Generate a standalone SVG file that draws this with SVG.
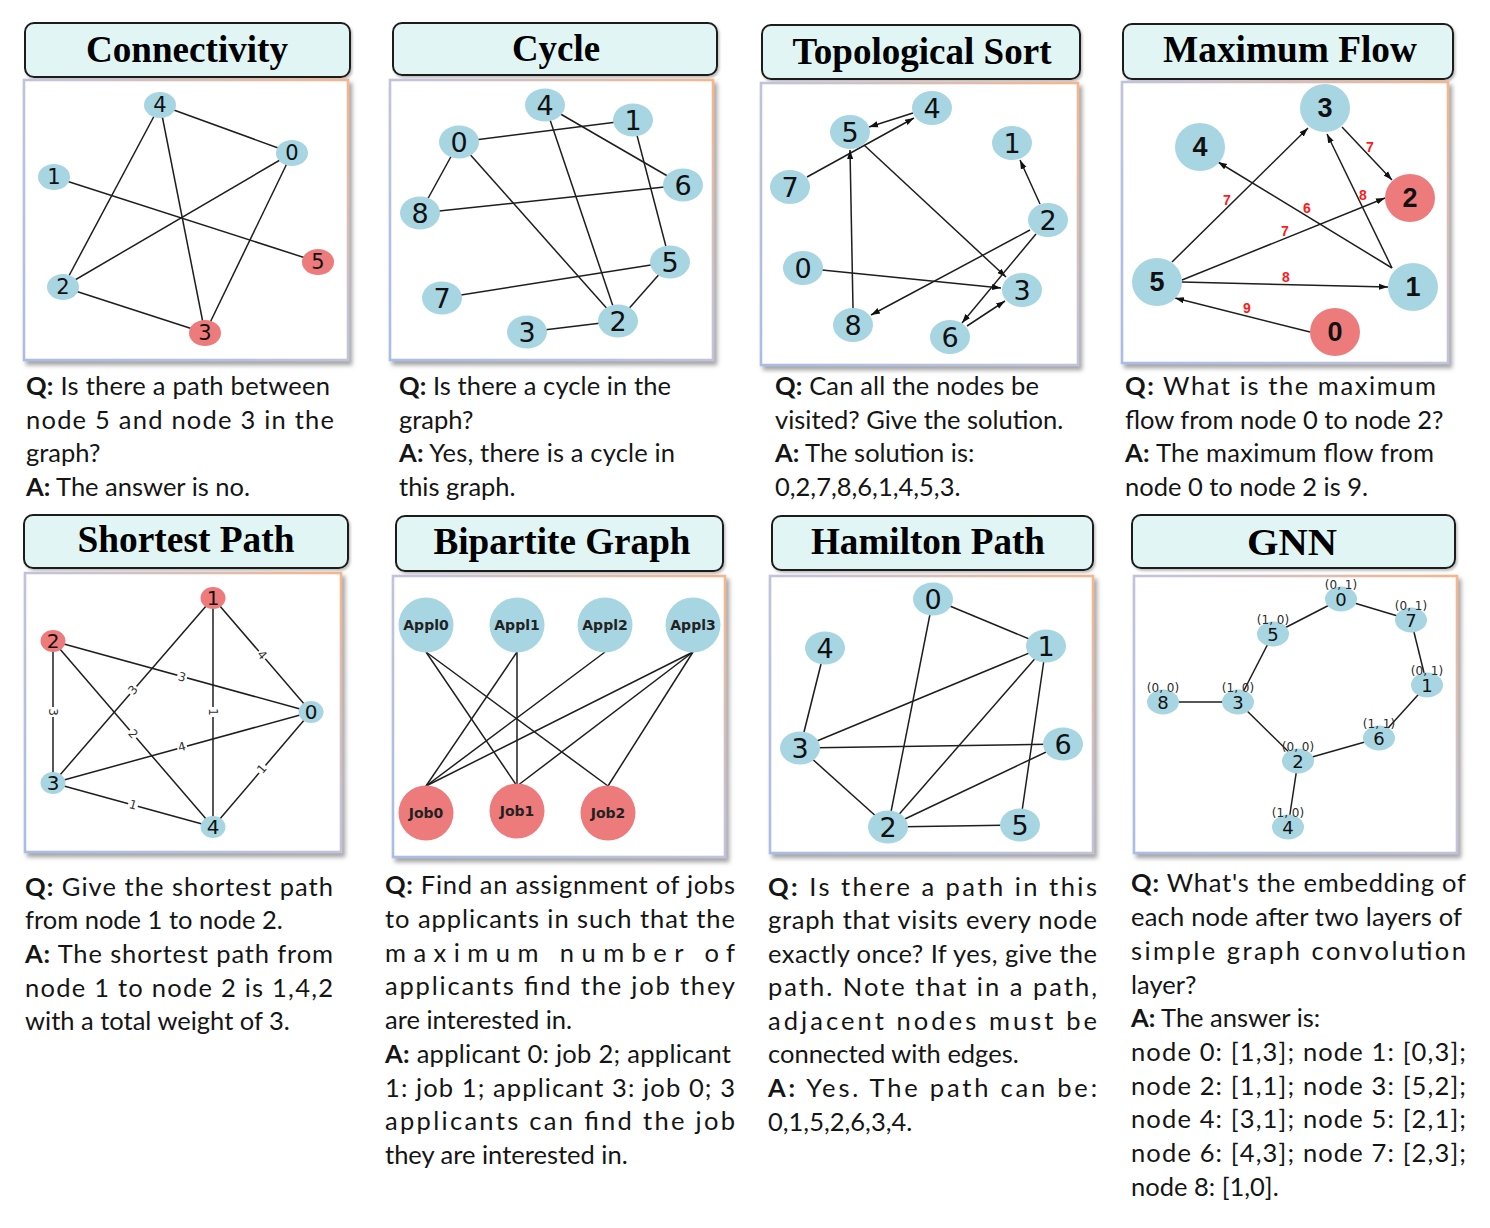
<svg xmlns="http://www.w3.org/2000/svg" width="1490" height="1228" viewBox="0 0 1490 1228">
<defs>
<linearGradient id="bord" x1="0" y1="1" x2="1" y2="0">
<stop offset="0" stop-color="#a9bde6"/>
<stop offset="0.55" stop-color="#c4c3da"/>
<stop offset="1" stop-color="#f4b68c"/>
</linearGradient>
<filter id="sh" x="-5%" y="-5%" width="115%" height="115%">
<feDropShadow dx="3" dy="4" stdDeviation="2" flood-color="#7f7f7f" flood-opacity="0.7"/>
</filter>
<filter id="sh2" x="-5%" y="-10%" width="115%" height="130%">
<feDropShadow dx="1.5" dy="2" stdDeviation="1.2" flood-color="#7f7f7f" flood-opacity="0.5"/>
</filter>
<marker id="arr" viewBox="0 0 10 10" refX="10" refY="5" markerWidth="9" markerHeight="9" markerUnits="userSpaceOnUse" orient="auto">
<path d="M0,1.6 L10,5 L0,8.4 z" fill="#111"/>
</marker>
</defs>
<style>
.tb{fill:#e1f6f4;stroke:#1b1b1b;stroke-width:2;filter:url(#sh2)}
.gb{fill:#fff;stroke:url(#bord);stroke-width:2.6;filter:url(#sh)}
.tt{font-family:"Liberation Serif","Times New Roman",serif;font-weight:bold;font-size:37px;fill:#000;text-anchor:middle}
.q{font-family:Lato,"Liberation Sans",sans-serif;font-size:25.5px;fill:#151515}
.q tspan.b{font-weight:bold}
.e line{stroke:#1e1e1e;stroke-width:1.5;fill:none}
.ea line{stroke:#1e1e1e;stroke-width:1.5;marker-end:url(#arr)}
.bl{fill:#a8d5e2}
.rd{fill:#ee7b7b}
.n{font-family:"DejaVu Sans",sans-serif;fill:#111;text-anchor:middle;dominant-baseline:central}
.mf{font-family:"Liberation Sans",Arial,sans-serif;font-weight:bold;fill:#111;text-anchor:middle;dominant-baseline:central;font-size:27px}
.w{font-family:"Liberation Sans",Arial,sans-serif;font-weight:bold;fill:#ff1a1a;font-size:14px;text-anchor:middle;dominant-baseline:central}
.sw{font-family:"DejaVu Sans",sans-serif;font-size:12px;fill:#333;text-anchor:middle;dominant-baseline:central}
.bp{font-family:"DejaVu Sans",sans-serif;font-weight:bold;font-size:14px;fill:#222;text-anchor:middle;dominant-baseline:central}
.tu{font-family:"DejaVu Sans",sans-serif;font-size:12px;fill:#2a2a2a;text-anchor:middle;dominant-baseline:central}
</style>

<!-- Panel 1: Connectivity -->
<g id="connectivity">
<rect class="tb" x="25" y="23" width="325" height="54" rx="9"/>
<text class="tt" x="187" y="62" textLength="202" lengthAdjust="spacingAndGlyphs">Connectivity</text>
<rect class="gb" x="24" y="80" width="324" height="280"/>
<g id="p1-edges" class="e">
<line x1="160" y1="105" x2="292" y2="153"/>
<line x1="160" y1="105" x2="63" y2="287"/>
<line x1="160" y1="105" x2="205" y2="333"/>
<line x1="54" y1="177" x2="318" y2="262"/>
<line x1="292" y1="153" x2="63" y2="287"/>
<line x1="292" y1="153" x2="205" y2="333"/>
<line x1="63" y1="287" x2="205" y2="333"/>
</g>
<g id="p1-n4"><ellipse class="bl" cx="160" cy="105" rx="16" ry="13"/><text class="n" x="160" y="105" font-size="21">4</text></g>
<g id="p1-n0"><ellipse class="bl" cx="292" cy="153" rx="16" ry="13"/><text class="n" x="292" y="153" font-size="21">0</text></g>
<g id="p1-n1"><ellipse class="bl" cx="54" cy="177" rx="16" ry="13"/><text class="n" x="54" y="177" font-size="21">1</text></g>
<g id="p1-n5"><ellipse class="rd" cx="318" cy="262" rx="16" ry="13"/><text class="n" x="318" y="262" font-size="21">5</text></g>
<g id="p1-n2"><ellipse class="bl" cx="63" cy="287" rx="16" ry="13"/><text class="n" x="63" y="287" font-size="21">2</text></g>
<g id="p1-n3"><ellipse class="rd" cx="205" cy="333" rx="16" ry="13"/><text class="n" x="205" y="333" font-size="21">3</text></g>
<g id="p1-text">
<text class="q" x="26" y="395" textLength="304" lengthAdjust="spacing"><tspan class="b">Q:</tspan> Is there a path between</text>
<text class="q" x="26" y="429" textLength="308" lengthAdjust="spacing">node 5 and node 3 in the</text>
<text class="q" x="26" y="462">graph?</text>
<text class="q" x="26" y="496"><tspan class="b">A:</tspan> The answer is no.</text>
</g>
</g>

<!-- Panel 2: Cycle -->
<g id="cycle">
<rect class="tb" x="393" y="23" width="324" height="52" rx="9"/>
<text class="tt" x="556" y="61" textLength="88" lengthAdjust="spacingAndGlyphs">Cycle</text>
<rect class="gb" x="390" y="80" width="323" height="280"/>
<g id="p2-edges" class="e">
<line x1="459" y1="142" x2="633" y2="120"/>
<line x1="459" y1="142" x2="420" y2="213"/>
<line x1="459" y1="142" x2="618" y2="321"/>
<line x1="545" y1="105" x2="683" y2="185"/>
<line x1="545" y1="105" x2="618" y2="321"/>
<line x1="633" y1="120" x2="670" y2="262"/>
<line x1="420" y1="213" x2="683" y2="185"/>
<line x1="442" y1="298" x2="670" y2="262"/>
<line x1="670" y1="262" x2="618" y2="321"/>
<line x1="527" y1="332" x2="618" y2="321"/>
</g>
<g id="p2-n4"><ellipse class="bl" cx="545" cy="105" rx="20" ry="16.5"/><text class="n" x="545" y="105" font-size="27">4</text></g>
<g id="p2-n1"><ellipse class="bl" cx="633" cy="120" rx="20" ry="16.5"/><text class="n" x="633" y="120" font-size="27">1</text></g>
<g id="p2-n0"><ellipse class="bl" cx="459" cy="142" rx="20" ry="16.5"/><text class="n" x="459" y="142" font-size="27">0</text></g>
<g id="p2-n6"><ellipse class="bl" cx="683" cy="185" rx="20" ry="16.5"/><text class="n" x="683" y="185" font-size="27">6</text></g>
<g id="p2-n8"><ellipse class="bl" cx="420" cy="213" rx="20" ry="16.5"/><text class="n" x="420" y="213" font-size="27">8</text></g>
<g id="p2-n5"><ellipse class="bl" cx="670" cy="262" rx="20" ry="16.5"/><text class="n" x="670" y="262" font-size="27">5</text></g>
<g id="p2-n7"><ellipse class="bl" cx="442" cy="298" rx="20" ry="16.5"/><text class="n" x="442" y="298" font-size="27">7</text></g>
<g id="p2-n2"><ellipse class="bl" cx="618" cy="321" rx="20" ry="16.5"/><text class="n" x="618" y="321" font-size="27">2</text></g>
<g id="p2-n3"><ellipse class="bl" cx="527" cy="332" rx="20" ry="16.5"/><text class="n" x="527" y="332" font-size="27">3</text></g>
<g id="p2-text">
<text class="q" x="399" y="395" textLength="272" lengthAdjust="spacing"><tspan class="b">Q:</tspan> Is there a cycle in the</text>
<text class="q" x="399" y="429">graph?</text>
<text class="q" x="399" y="462" textLength="276" lengthAdjust="spacing"><tspan class="b">A:</tspan> Yes, there is a cycle in</text>
<text class="q" x="399" y="496">this graph.</text>
</g>
</g>

<!-- Panel 3: Topological Sort -->
<g id="topological">
<rect class="tb" x="762" y="25" width="318" height="54" rx="9"/>
<text class="tt" x="922" y="64" textLength="259" lengthAdjust="spacingAndGlyphs">Topological Sort</text>
<rect class="gb" x="761" y="83" width="317" height="282"/>
<g id="p3-edges" class="ea">
<line x1="913" y1="113" x2="869" y2="127"/>
<line x1="807" y1="177" x2="914" y2="118"/>
<line x1="864" y1="145" x2="1006" y2="277"/>
<line x1="853" y1="308" x2="850" y2="150"/>
<line x1="1040" y1="204" x2="1020" y2="160"/>
<line x1="1030" y1="230" x2="871" y2="315"/>
<line x1="1036" y1="234" x2="962" y2="323"/>
<line x1="822" y1="270" x2="1001" y2="288"/>
<line x1="967" y1="326" x2="1005" y2="301"/>
</g>
<g id="p3-n4"><ellipse class="bl" cx="932" cy="108" rx="20" ry="17"/><text class="n" x="932" y="108" font-size="27">4</text></g>
<g id="p3-n5"><ellipse class="bl" cx="850" cy="132" rx="20" ry="17"/><text class="n" x="850" y="132" font-size="27">5</text></g>
<g id="p3-n1"><ellipse class="bl" cx="1012" cy="143" rx="20" ry="17"/><text class="n" x="1012" y="143" font-size="27">1</text></g>
<g id="p3-n7"><ellipse class="bl" cx="790" cy="187" rx="20" ry="17"/><text class="n" x="790" y="187" font-size="27">7</text></g>
<g id="p3-n2"><ellipse class="bl" cx="1048" cy="220" rx="20" ry="17"/><text class="n" x="1048" y="220" font-size="27">2</text></g>
<g id="p3-n0"><ellipse class="bl" cx="803" cy="268" rx="20" ry="17"/><text class="n" x="803" y="268" font-size="27">0</text></g>
<g id="p3-n3"><ellipse class="bl" cx="1022" cy="290" rx="20" ry="17"/><text class="n" x="1022" y="290" font-size="27">3</text></g>
<g id="p3-n8"><ellipse class="bl" cx="853" cy="325" rx="20" ry="17"/><text class="n" x="853" y="325" font-size="27">8</text></g>
<g id="p3-n6"><ellipse class="bl" cx="950" cy="337" rx="20" ry="17"/><text class="n" x="950" y="337" font-size="27">6</text></g>
<g id="p3-text">
<text class="q" x="775" y="395" textLength="264" lengthAdjust="spacing"><tspan class="b">Q:</tspan> Can all the nodes be</text>
<text class="q" x="775" y="429">visited? Give the solution.</text>
<text class="q" x="775" y="462"><tspan class="b">A:</tspan> The solution is:</text>
<text class="q" x="775" y="496">0,2,7,8,6,1,4,5,3.</text>
</g>
</g>

<!-- Panel 4: Maximum Flow -->
<g id="maxflow">
<rect class="tb" x="1123" y="24" width="330" height="55" rx="9"/>
<text class="tt" x="1290" y="62" textLength="254" lengthAdjust="spacingAndGlyphs">Maximum Flow</text>
<rect class="gb" x="1122" y="82" width="326" height="281"/>
<g id="p4-edges" class="ea">
<line x1="1172" y1="262" x2="1308" y2="128"/>
<line x1="1342" y1="127" x2="1392" y2="180"/>
<line x1="1182" y1="280" x2="1385" y2="198"/>
<line x1="1182" y1="282" x2="1388" y2="287"/>
<line x1="1310" y1="332" x2="1175" y2="298"/>
<line x1="1392" y1="268" x2="1218" y2="162"/>
<line x1="1392" y1="268" x2="1327" y2="134"/>
</g>
<g id="p4-weights">
<text class="w" x="1370" y="147">7</text>
<text class="w" x="1227" y="200">7</text>
<text class="w" x="1307" y="208">6</text>
<text class="w" x="1363" y="195">8</text>
<text class="w" x="1285" y="231">7</text>
<text class="w" x="1286" y="277">8</text>
<text class="w" x="1247" y="308">9</text>
</g>
<g id="p4-n3"><ellipse class="bl" cx="1325" cy="108" rx="25" ry="24"/><text class="mf" x="1325" y="108">3</text></g>
<g id="p4-n4"><ellipse class="bl" cx="1200" cy="147" rx="25" ry="24"/><text class="mf" x="1200" y="147">4</text></g>
<g id="p4-n2"><ellipse class="rd" cx="1410" cy="198" rx="25" ry="24"/><text class="mf" x="1410" y="198">2</text></g>
<g id="p4-n5"><ellipse class="bl" cx="1157" cy="282" rx="25" ry="24"/><text class="mf" x="1157" y="282">5</text></g>
<g id="p4-n1"><ellipse class="bl" cx="1413" cy="287" rx="25" ry="24"/><text class="mf" x="1413" y="287">1</text></g>
<g id="p4-n0"><ellipse class="rd" cx="1335" cy="332" rx="25" ry="24"/><text class="mf" x="1335" y="332">0</text></g>
<g id="p4-text">
<text class="q" x="1125" y="395" textLength="311" lengthAdjust="spacing"><tspan class="b">Q:</tspan> What is the maximum</text>
<text class="q" x="1125" y="429">flow from node 0 to node 2?</text>
<text class="q" x="1125" y="462" textLength="309" lengthAdjust="spacing"><tspan class="b">A:</tspan> The maximum flow from</text>
<text class="q" x="1125" y="496">node 0 to node 2 is 9.</text>
</g>
</g>

<!-- Panel 5: Shortest Path -->
<g id="shortest">
<rect class="tb" x="24" y="515" width="324" height="53" rx="9"/>
<text class="tt" x="186" y="552" textLength="217" lengthAdjust="spacingAndGlyphs">Shortest Path</text>
<rect class="gb" x="25" y="573" width="316" height="279"/>
<g id="p5-edges" class="e">
<line x1="213" y1="598" x2="311" y2="712"/>
<line x1="53" y1="641" x2="311" y2="712"/>
<line x1="213" y1="598" x2="53" y2="783"/>
<line x1="213" y1="598" x2="213" y2="827"/>
<line x1="53" y1="641" x2="53" y2="783"/>
<line x1="53" y1="641" x2="213" y2="827"/>
<line x1="53" y1="783" x2="311" y2="712"/>
<line x1="311" y1="712" x2="213" y2="827"/>
<line x1="53" y1="783" x2="213" y2="827"/>
</g>
<g id="p5-weights">
<g transform="translate(262,655) rotate(49)"><rect x="-5" y="-7" width="10" height="14" fill="#fff"/><text class="sw">4</text></g>
<g transform="translate(182,677) rotate(15)"><rect x="-5" y="-7" width="10" height="14" fill="#fff"/><text class="sw">3</text></g>
<g transform="translate(133,690) rotate(-49)"><rect x="-5" y="-7" width="10" height="14" fill="#fff"/><text class="sw">3</text></g>
<g transform="translate(213,712) rotate(90)"><rect x="-5" y="-7" width="10" height="14" fill="#fff"/><text class="sw">1</text></g>
<g transform="translate(53,712) rotate(90)"><rect x="-5" y="-7" width="10" height="14" fill="#fff"/><text class="sw">3</text></g>
<g transform="translate(133,734) rotate(49)"><rect x="-5" y="-7" width="10" height="14" fill="#fff"/><text class="sw">2</text></g>
<g transform="translate(182,747) rotate(-15)"><rect x="-5" y="-7" width="10" height="14" fill="#fff"/><text class="sw">4</text></g>
<g transform="translate(262,769) rotate(-50)"><rect x="-5" y="-7" width="10" height="14" fill="#fff"/><text class="sw">1</text></g>
<g transform="translate(133,805) rotate(15.5)"><rect x="-5" y="-7" width="10" height="14" fill="#fff"/><text class="sw">1</text></g>
</g>
<g id="p5-n1"><ellipse class="rd" cx="213" cy="598" rx="12.5" ry="11"/><text class="n" x="213" y="598" font-size="20">1</text></g>
<g id="p5-n2"><ellipse class="rd" cx="53" cy="641" rx="12.5" ry="11"/><text class="n" x="53" y="641" font-size="20">2</text></g>
<g id="p5-n0"><ellipse class="bl" cx="311" cy="712" rx="12.5" ry="11"/><text class="n" x="311" y="712" font-size="20">0</text></g>
<g id="p5-n3"><ellipse class="bl" cx="53" cy="783" rx="12.5" ry="11"/><text class="n" x="53" y="783" font-size="20">3</text></g>
<g id="p5-n4"><ellipse class="bl" cx="213" cy="827" rx="12.5" ry="11"/><text class="n" x="213" y="827" font-size="20">4</text></g>
<g id="p5-text">
<text class="q" x="25" y="896" textLength="308" lengthAdjust="spacing"><tspan class="b">Q:</tspan> Give the shortest path</text>
<text class="q" x="25" y="929">from node 1 to node 2.</text>
<text class="q" x="25" y="963" textLength="308" lengthAdjust="spacing"><tspan class="b">A:</tspan> The shortest path from</text>
<text class="q" x="25" y="997" textLength="308" lengthAdjust="spacing">node 1 to node 2 is 1,4,2</text>
<text class="q" x="25" y="1030">with a total weight of 3.</text>
</g>
</g>

<!-- Panel 6: Bipartite Graph -->
<g id="bipartite">
<rect class="tb" x="396" y="516" width="327" height="55" rx="9"/>
<text class="tt" x="562" y="554" textLength="257" lengthAdjust="spacingAndGlyphs">Bipartite Graph</text>
<rect class="gb" x="393" y="576" width="332" height="281"/>
<g id="p6-edges" class="e">
<line x1="426" y1="652" x2="517" y2="786"/>
<line x1="426" y1="652" x2="608" y2="786"/>
<line x1="517" y1="652" x2="426" y2="786"/>
<line x1="517" y1="652" x2="517" y2="786"/>
<line x1="605" y1="652" x2="426" y2="786"/>
<line x1="693" y1="652" x2="426" y2="786"/>
<line x1="693" y1="652" x2="517" y2="786"/>
<line x1="693" y1="652" x2="608" y2="786"/>
</g>
<g id="p6-appl0"><circle class="bl" cx="426" cy="625" r="27.5"/><text class="bp" x="426" y="625">Appl0</text></g>
<g id="p6-appl1"><circle class="bl" cx="517" cy="625" r="27.5"/><text class="bp" x="517" y="625">Appl1</text></g>
<g id="p6-appl2"><circle class="bl" cx="605" cy="625" r="27.5"/><text class="bp" x="605" y="625">Appl2</text></g>
<g id="p6-appl3"><circle class="bl" cx="693" cy="625" r="27.5"/><text class="bp" x="693" y="625">Appl3</text></g>
<g id="p6-job0"><circle class="rd" cx="426" cy="813" r="27.5"/><text class="bp" x="426" y="813">Job0</text></g>
<g id="p6-job1"><circle class="rd" cx="517" cy="811" r="27.5"/><text class="bp" x="517" y="811">Job1</text></g>
<g id="p6-job2"><circle class="rd" cx="608" cy="813" r="27.5"/><text class="bp" x="608" y="813">Job2</text></g>
<g id="p6-text">
<text class="q" x="385" y="894" textLength="350" lengthAdjust="spacing"><tspan class="b">Q:</tspan> Find an assignment of jobs</text>
<text class="q" x="385" y="928" textLength="350" lengthAdjust="spacing">to applicants in such that the</text>
<text class="q" x="385" y="962" textLength="350" lengthAdjust="spacing">maximum number of</text>
<text class="q" x="385" y="995" textLength="350" lengthAdjust="spacing">applicants find the job they</text>
<text class="q" x="385" y="1029">are interested in.</text>
<text class="q" x="385" y="1063" textLength="346" lengthAdjust="spacing"><tspan class="b">A:</tspan> applicant 0: job 2; applicant</text>
<text class="q" x="385" y="1097" textLength="350" lengthAdjust="spacing">1: job 1; applicant 3: job 0; 3</text>
<text class="q" x="385" y="1130" textLength="350" lengthAdjust="spacing">applicants can find the job</text>
<text class="q" x="385" y="1164">they are interested in.</text>
</g>
</g>

<!-- Panel 7: Hamilton Path -->
<g id="hamilton">
<rect class="tb" x="772" y="516" width="321" height="54" rx="9"/>
<text class="tt" x="928" y="554" textLength="234" lengthAdjust="spacingAndGlyphs">Hamilton Path</text>
<rect class="gb" x="770" y="576" width="323" height="277"/>
<g id="p7-edges" class="e">
<line x1="933" y1="599" x2="1046" y2="646"/>
<line x1="933" y1="599" x2="888" y2="827"/>
<line x1="825" y1="648" x2="800" y2="748"/>
<line x1="1046" y1="646" x2="800" y2="748"/>
<line x1="1046" y1="646" x2="888" y2="827"/>
<line x1="1046" y1="646" x2="1020" y2="825"/>
<line x1="800" y1="748" x2="1063" y2="744"/>
<line x1="800" y1="748" x2="888" y2="827"/>
<line x1="1063" y1="744" x2="888" y2="827"/>
<line x1="888" y1="827" x2="1020" y2="825"/>
</g>
<g id="p7-n0"><ellipse class="bl" cx="933" cy="599" rx="20" ry="16.5"/><text class="n" x="933" y="599" font-size="27">0</text></g>
<g id="p7-n4"><ellipse class="bl" cx="825" cy="648" rx="20" ry="16.5"/><text class="n" x="825" y="648" font-size="27">4</text></g>
<g id="p7-n1"><ellipse class="bl" cx="1046" cy="646" rx="20" ry="16.5"/><text class="n" x="1046" y="646" font-size="27">1</text></g>
<g id="p7-n3"><ellipse class="bl" cx="800" cy="748" rx="20" ry="16.5"/><text class="n" x="800" y="748" font-size="27">3</text></g>
<g id="p7-n6"><ellipse class="bl" cx="1063" cy="744" rx="20" ry="16.5"/><text class="n" x="1063" y="744" font-size="27">6</text></g>
<g id="p7-n2"><ellipse class="bl" cx="888" cy="827" rx="20" ry="16.5"/><text class="n" x="888" y="827" font-size="27">2</text></g>
<g id="p7-n5"><ellipse class="bl" cx="1020" cy="825" rx="20" ry="16.5"/><text class="n" x="1020" y="825" font-size="27">5</text></g>
<g id="p7-text">
<text class="q" x="768" y="896" textLength="329" lengthAdjust="spacing"><tspan class="b">Q:</tspan> Is there a path in this</text>
<text class="q" x="768" y="929" textLength="329" lengthAdjust="spacing">graph that visits every node</text>
<text class="q" x="768" y="963" textLength="329" lengthAdjust="spacing">exactly once? If yes, give the</text>
<text class="q" x="768" y="996" textLength="329" lengthAdjust="spacing">path. Note that in a path,</text>
<text class="q" x="768" y="1030" textLength="329" lengthAdjust="spacing">adjacent nodes must be</text>
<text class="q" x="768" y="1063">connected with edges.</text>
<text class="q" x="768" y="1097" textLength="329" lengthAdjust="spacing"><tspan class="b">A:</tspan> Yes. The path can be:</text>
<text class="q" x="768" y="1131">0,1,5,2,6,3,4.</text>
</g>
</g>

<!-- Panel 8: GNN -->
<g id="gnn">
<rect class="tb" x="1132" y="515" width="323" height="53" rx="9"/>
<text class="tt" x="1292" y="555" textLength="90" lengthAdjust="spacingAndGlyphs">GNN</text>
<rect class="gb" x="1134" y="576" width="323" height="277"/>
<g id="p8-edges" class="e">
<line x1="1341" y1="599" x2="1273" y2="634"/>
<line x1="1341" y1="599" x2="1411" y2="620"/>
<line x1="1411" y1="620" x2="1427" y2="685"/>
<line x1="1273" y1="634" x2="1238" y2="702"/>
<line x1="1163" y1="702" x2="1238" y2="702"/>
<line x1="1238" y1="702" x2="1298" y2="761"/>
<line x1="1427" y1="685" x2="1379" y2="738"/>
<line x1="1379" y1="738" x2="1298" y2="761"/>
<line x1="1298" y1="761" x2="1288" y2="827"/>
</g>
<g id="p8-n0"><ellipse class="bl" cx="1341" cy="599" rx="16" ry="12.5"/><text class="n" x="1341" y="599" font-size="18">0</text><text class="tu" x="1341" y="585">(0, 1)</text></g>
<g id="p8-n7"><ellipse class="bl" cx="1411" cy="620" rx="16" ry="12.5"/><text class="n" x="1411" y="620" font-size="18">7</text><text class="tu" x="1411" y="606">(0, 1)</text></g>
<g id="p8-n5"><ellipse class="bl" cx="1273" cy="634" rx="16" ry="12.5"/><text class="n" x="1273" y="634" font-size="18">5</text><text class="tu" x="1273" y="620">(1, 0)</text></g>
<g id="p8-n1"><ellipse class="bl" cx="1427" cy="685" rx="16" ry="12.5"/><text class="n" x="1427" y="685" font-size="18">1</text><text class="tu" x="1427" y="671">(0, 1)</text></g>
<g id="p8-n8"><ellipse class="bl" cx="1163" cy="702" rx="16" ry="12.5"/><text class="n" x="1163" y="702" font-size="18">8</text><text class="tu" x="1163" y="688">(0, 0)</text></g>
<g id="p8-n3"><ellipse class="bl" cx="1238" cy="702" rx="16" ry="12.5"/><text class="n" x="1238" y="702" font-size="18">3</text><text class="tu" x="1238" y="688">(1, 0)</text></g>
<g id="p8-n6"><ellipse class="bl" cx="1379" cy="738" rx="16" ry="12.5"/><text class="n" x="1379" y="738" font-size="18">6</text><text class="tu" x="1379" y="724">(1, 1)</text></g>
<g id="p8-n2"><ellipse class="bl" cx="1298" cy="761" rx="16" ry="12.5"/><text class="n" x="1298" y="761" font-size="18">2</text><text class="tu" x="1298" y="747">(0, 0)</text></g>
<g id="p8-n4"><ellipse class="bl" cx="1288" cy="827" rx="16" ry="12.5"/><text class="n" x="1288" y="827" font-size="18">4</text><text class="tu" x="1288" y="813">(1, 0)</text></g>
<g id="p8-text">
<text class="q" x="1131" y="892" textLength="335" lengthAdjust="spacing"><tspan class="b">Q:</tspan> What's the embedding of</text>
<text class="q" x="1131" y="926" textLength="331" lengthAdjust="spacing">each node after two layers of</text>
<text class="q" x="1131" y="960" textLength="335" lengthAdjust="spacing">simple graph convolution</text>
<text class="q" x="1131" y="994">layer?</text>
<text class="q" x="1131" y="1027"><tspan class="b">A:</tspan> The answer is:</text>
<text class="q" x="1131" y="1061" textLength="335" lengthAdjust="spacing">node 0: [1,3]; node 1: [0,3];</text>
<text class="q" x="1131" y="1095" textLength="335" lengthAdjust="spacing">node 2: [1,1]; node 3: [5,2];</text>
<text class="q" x="1131" y="1128" textLength="335" lengthAdjust="spacing">node 4: [3,1]; node 5: [2,1];</text>
<text class="q" x="1131" y="1162" textLength="335" lengthAdjust="spacing">node 6: [4,3]; node 7: [2,3];</text>
<text class="q" x="1131" y="1196">node 8: [1,0].</text>
</g>
</g>
</svg>
